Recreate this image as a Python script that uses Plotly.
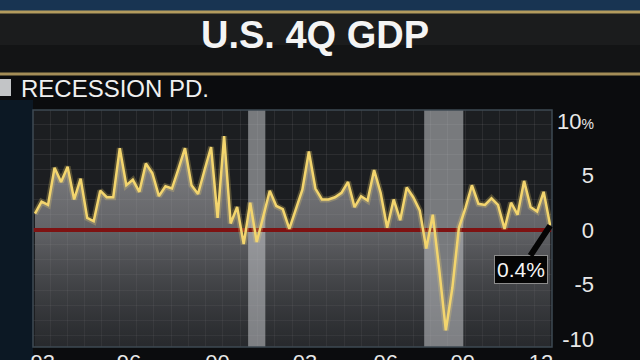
import plotly.graph_objects as go

# ---------------- data ----------------
years = list(range(1993, 2013))
quarter_offsets = [0.0, 0.25, 0.5, 0.75]
gdp = [
    1.5, 2.6, 2.3, 5.7,    # 1993
    4.4, 5.8, 2.8, 4.7,    # 1994
    1.1, 0.8, 3.6, 3.0,    # 1995
    3.0, 7.5, 4.1, 4.6,    # 1996
    3.5, 6.1, 5.2, 3.1,    # 1997
    4.0, 3.8, 5.6, 7.5,    # 1998
    4.1, 3.3, 5.5, 7.6,    # 1999
    1.1, 8.6, 0.6, 2.1,    # 2000
    -1.3, 2.5, -1.1, 1.2,  # 2001
    3.6, 2.2, 1.9, 0.1,    # 2002
    1.8, 3.7, 7.2, 3.8,    # 2003
    2.8, 2.8, 3.0, 3.4,    # 2004
    4.4, 2.1, 3.1, 2.7,    # 2005
    5.5, 3.4, 0.2, 2.8,    # 2006
    0.9, 3.9, 3.0, 1.8,    # 2007
    -1.7, 1.4, -3.7, -9.2, # 2008
    -5.3, 0.2, 2.0, 4.1,   # 2009
    2.4, 2.3, 2.9, 2.3,    # 2010
    0.1, 2.5, 1.4, 4.5,    # 2011
    2.1, 1.7, 3.5, 0.4,    # 2012
]
x_q = [y + q for y in years for q in quarter_offsets]

recession_start = [2001.17, 2007.92]
recession_end = [2001.83, 2009.42]

xtick_vals = [1993.3, 1996.6, 2000.0, 2003.35, 2006.45, 2009.4, 2012.4]
xtick_text = ["93", "96", "00", "03", "06", "09", "12"]
ytick_vals = [10, 5, 0, -5, -10]
ytick_text = ["10<span style='font-size:14px'>%</span>", "5", "0", "-5", "-10"]

Y_MIN, Y_MAX = -10.73, 11.0
X_MIN, X_MAX = 1992.923, 2012.82

# ---------------- layout helpers ----------------
W, H = 640, 360
ML, MR, MT, MB = 33, 46, 110, 13
PW = W - ML - MR
PH = H - MT - MB
PLOT_RIGHT = 552


def px(p):
    return (p - ML) / PW


def py(p):
    return (H - MB - p) / PH


SANS = "Liberation Sans, Arial, Helvetica, sans-serif"
TITLE_FONT = "Liberation Sans Narrow, Liberation Sans, Arial, sans-serif"

fig = go.Figure()

# baseline for area fill
fig.add_trace(go.Scatter(x=x_q, y=[Y_MIN] * len(x_q), mode="lines",
                         line=dict(width=0), hoverinfo="skip", showlegend=False))
# gradient area under the line
fig.add_trace(go.Scatter(
    x=x_q, y=gdp, mode="lines", line=dict(width=0), fill="tonexty",
    fillgradient=dict(type="vertical", start=Y_MIN, stop=9,
                      colorscale=[[0, "rgba(60,62,66,0.35)"],
                                  [0.55, "rgba(150,150,154,0.58)"],
                                  [1, "rgba(185,185,188,0.68)"]]),
    hoverinfo="skip", showlegend=False))

# recession bands
for s, e in zip(recession_start, recession_end):
    fig.add_trace(go.Scatter(
        x=[s, s, e, e, s], y=[Y_MIN, Y_MAX, Y_MAX, Y_MIN, Y_MIN],
        mode="lines", fill="toself", fillcolor="rgba(196,198,202,0.55)",
        line=dict(width=0), hoverinfo="skip", showlegend=False))

# zero line
fig.add_trace(go.Scatter(x=[X_MIN, X_MAX], y=[0, 0], mode="lines",
                         line=dict(color="#7e1212", width=4),
                         hoverinfo="skip", showlegend=False))
# glow + GDP line
fig.add_trace(go.Scatter(x=x_q, y=gdp, mode="lines",
                         line=dict(color="rgba(245,215,110,0.25)", width=6),
                         hoverinfo="skip", showlegend=False))
fig.add_trace(go.Scatter(x=x_q, y=gdp, mode="lines",
                         line=dict(color="#f3d56e", width=2.5),
                         showlegend=False))

shapes = [
    # top image strip
    dict(type="rect", xref="paper", yref="paper", x0=px(0), x1=px(640), y0=py(11), y1=py(0),
         fillcolor="#183452", line=dict(width=0), layer="below"),
    # header band
    dict(type="rect", xref="paper", yref="paper", x0=px(0), x1=px(640), y0=py(73), y1=py(13),
         fillcolor="#131415", line=dict(width=0), layer="below"),
    dict(type="rect", xref="paper", yref="paper", x0=px(0), x1=px(640), y0=py(45), y1=py(13),
         fillcolor="rgba(255,255,255,0.035)", line=dict(width=0), layer="below"),
    dict(type="rect", xref="paper", yref="paper", x0=px(0), x1=px(640), y0=py(13.5), y1=py(10.5),
         fillcolor="#b39b5e", line=dict(width=0), layer="below"),
    dict(type="rect", xref="paper", yref="paper", x0=px(0), x1=px(640), y0=py(75.5), y1=py(72.5),
         fillcolor="#a48d57", line=dict(width=0), layer="below"),
    # left blue panel
    dict(type="rect", xref="paper", yref="paper", x0=px(0), x1=px(33), y0=py(360), y1=py(100),
         fillcolor="#0c1824", line=dict(width=0), layer="below"),
    # legend swatch
    dict(type="rect", xref="paper", yref="paper", x0=px(-1), x1=px(11), y0=py(96), y1=py(79),
         fillcolor="#c2c4c6", line=dict(width=0)),
    # plot border
    dict(type="rect", xref="x domain", yref="y domain", x0=0, x1=1, y0=0, y1=1,
         line=dict(color="#3e4953", width=1.5), layer="above"),
]

annotations = [
    dict(text="<b>U.S. 4Q GDP</b>", xref="paper", yref="paper", x=px(315), y=py(35),
         xanchor="center", yanchor="middle", showarrow=False,
         font=dict(family=TITLE_FONT, size=38, color="#f4f4f4")),
    dict(text="RECESSION PD.", xref="paper", yref="paper", x=px(19), y=py(88),
         xanchor="left", yanchor="middle", showarrow=False,
         font=dict(family=SANS, size=24, color="#f0f0f0")),
    dict(text=f"{gdp[-1]}%", x=x_q[-1], y=gdp[-1], xref="x", yref="y",
         showarrow=True, arrowhead=0, arrowwidth=6, arrowcolor="#050505",
         ax=-29, ay=44, standoff=0, bgcolor="#050505", bordercolor="#8c8c8c",
         borderwidth=1, borderpad=2,
         font=dict(family=SANS, size=21, color="#f5f5f5")),
]

fig.update_layout(
    width=W, height=H,
    margin=dict(l=ML, r=MR, t=MT, b=MB, pad=0, autoexpand=False),
    paper_bgcolor="#0b0c0e",
    plot_bgcolor="#1c1e21",
    showlegend=False,
    shapes=shapes,
    annotations=annotations,
    xaxis=dict(domain=[0, px(PLOT_RIGHT)], range=[X_MIN, X_MAX], automargin=False,
               tickmode="array", tickvals=xtick_vals, ticktext=xtick_text,
               tickfont=dict(family=SANS, size=22, color="#e8e8e8"),
               ticks="", showgrid=False, zeroline=False, showline=False,
               minor=dict(tickmode="linear", tick0=1993.575, dtick=0.663,
                          showgrid=True, gridcolor="rgba(255,255,255,0.07)",
                          gridwidth=1, ticks="")),
    yaxis=dict(range=[Y_MIN, Y_MAX], anchor="free", position=1, side="left",
               automargin=False,
               tickmode="array", tickvals=ytick_vals, ticktext=ytick_text,
               tickfont=dict(family=SANS, size=22, color="#e8e8e8"),
               ticks="", showgrid=False, zeroline=False, showline=False,
               minor=dict(tickmode="linear", tick0=0, dtick=1.376,
                          showgrid=True, gridcolor="rgba(255,255,255,0.07)",
                          gridwidth=1, ticks="")),
)

fig.write_html("out.html")
